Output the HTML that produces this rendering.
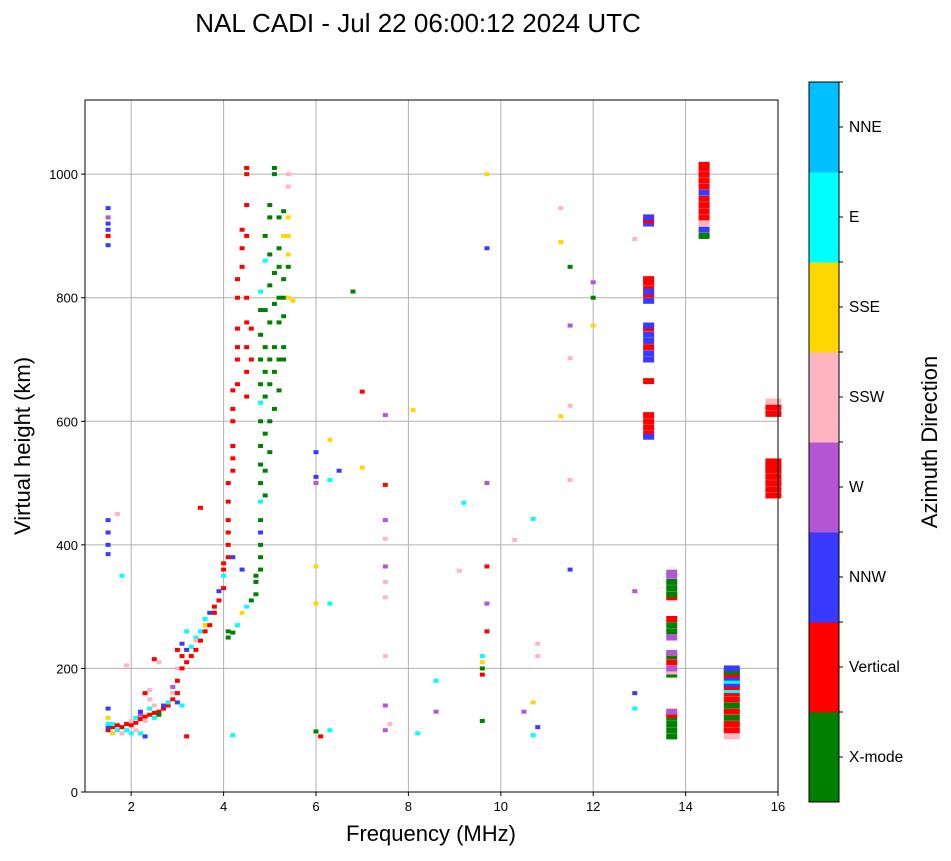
<!DOCTYPE html>
<html><head><meta charset="utf-8"><style>
html,body{margin:0;padding:0;background:#fff;}
svg text{font-family:"Liberation Sans",sans-serif;}
</style></head><body>
<svg id="chart" width="951" height="856" xmlns="http://www.w3.org/2000/svg">
<text x="418" y="32" font-size="26" text-anchor="middle">NAL CADI - Jul 22 06:00:12 2024 UTC</text>
<g id="grid"></g>
<g id="marks"></g>
<rect x="85" y="100" width="693" height="692" fill="none" stroke="#000" stroke-width="1"/>
<g id="axes"></g>
<text x="431" y="841" font-size="22" text-anchor="middle">Frequency (MHz)</text>
<text transform="translate(30,446) rotate(-90)" font-size="22" text-anchor="middle">Virtual height (km)</text>
<g id="cbar"></g>
<text transform="translate(937,442) rotate(-90)" font-size="22" text-anchor="middle">Azimuth Direction</text>
</svg>
<script>
const dirNames=["X-mode","Vertical","NNW","W","SSW","SSE","E","NNE"];
const dirColors=["#008000","#ff0000","#3a3aff","#b455d5","#ffb6c1","#ffd700","#00ffff","#00bfff"];
const xTicks=[2,4,6,8,10,12,14,16];
const yTicks=[0,200,400,600,800,1000];
const freqs=[];const heights=[];const dirs=[];
const raw=`1.5:100 1,105 2,110 6,120 5,135 2,385 2,400 2,420 2,440 2,885 2,900 1,910 2,920 2,930 3,945 2
1.6:95 5,105 1,110 6
1.7:100 6,108 1,450 4
1.8:105 1,95 4,350 6
1.9:110 1,100 6,205 4
2.0:108 1,115 4,95 6
2.1:112 1,120 6,100 4
2.2:118 1,125 3,95 6,130 2
2.3:122 1,115 4,160 1,90 2
2.4:125 1,135 6,165 4,150 4
2.5:128 1,140 4,215 1,120 6
2.6:130 1,210 4,125 0
2.7:135 1,140 2
2.8:140 1,145 6
2.9:150 1,160 4,170 3
3.0:160 1,180 1,200 4,230 1,145 2
3.1:200 1,220 1,240 2,140 6
3.2:210 1,230 2,260 6,90 1
3.3:220 1,235 6
3.4:230 1,250 6,245 4
3.5:245 1,260 6,460 1
3.6:260 1,270 5,280 6
3.7:270 1,290 2
3.8:290 1,300 1
3.9:310 1,325 2
4.0:330 1,350 6,370 1,360 1
4.1:380 1,400 1,420 1,440 1,470 1,500 1,250 0,260 0
4.2:520 1,540 1,560 1,600 1,620 1,650 1,380 2,92 6,258 0
4.3:660 1,700 1,720 1,750 1,800 1,830 1,270 6
4.4:850 1,880 1,910 1,290 5,360 2
4.5:900 1,950 1,1000 1,1010 1,800 1,760 1,720 1,680 1,640 1,300 6
4.6:750 1,700 1,310 0
4.7:320 0,340 0,350 0
4.8:360 0,380 0,400 0,420 2,440 0,470 6,500 0,530 0,560 0,600 0,630 6,660 0,700 0,740 0,780 0,810 6
4.9:480 0,520 0,580 0,640 0,680 0,720 0,780 0,900 0,860 6
5.0:550 0,600 0,660 0,700 0,760 0,820 0,870 0,930 0,950 0
5.1:620 0,680 0,720 0,790 0,840 0,1000 0,1010 0
5.2:650 0,700 0,760 0,800 0,850 0,880 0,930 0
5.3:700 0,720 0,770 0,800 0,830 0,900 5,940 0
5.4:800 5,850 0,870 5,900 5,930 5,980 4,1000 4
5.5:795 5
6.0:305 5,365 5,500 3,510 2,550 2,98 0
6.1:90 1
6.3:100 6,305 6,505 6,570 5
6.5:520 2
6.8:810 0
7.0:525 5,648 1
7.5:100 3,140 3,220 4,315 4,340 4,365 3,410 4,440 3,497 1,610 3
7.6:110 4
8.1:618 5
8.2:95 6
8.6:180 6,130 3
9.1:358 4
9.2:468 6
9.6:115 0,190 1,200 0,210 5,220 6
9.7:260 1,305 3,365 1,500 3,1000 5,880 2
10.3:408 4
10.5:130 3
10.7:92 6,145 5,442 6
10.8:105 2,240 4,220 4
11.3:608 5,890 5,945 4
11.5:360 2,505 4,625 4,702 4,755 3,850 0
12.0:755 5,800 0,825 3
12.9:135 6,160 2,325 3,895 4
13.2:580 1,590 1,600 1,610 1,575 2,665 1,700 2,710 2,730 2,740 2,720 1,750 1,755 2,795 2,805 1,815 1,825 1,830 1,810 2,920 2,925 1,930 2
13.7:90 0,100 0,110 0,120 0,125 1,130 3,190 0,195 4,200 3,210 1,220 0,225 3,250 3,260 0,270 0,280 1,315 1,320 0,330 0,340 0,350 3,355 3
14.4:900 0,910 2,920 4,930 1,940 1,950 1,960 1,970 2,980 1,990 1,1000 1,1010 1,1015 1
15.0:90 4,100 1,110 1,120 0,130 1,140 0,150 1,160 1,165 6,170 1,175 2,180 6,185 2,190 1,195 0,200 2
15.9:480 1,490 1,500 1,510 1,520 1,528 1,535 1,612 1,622 1,632 4`;
raw.split("\n").forEach(l=>{const [f,r]=l.split(":");r.split(",").forEach(p=>{const [h,d]=p.trim().split(" ");freqs.push(+f);heights.push(+h);dirs.push(+d);});});
const NS="http://www.w3.org/2000/svg";
const X0=85,X1=778,Y0=792,Y1=100;
const xs=f=>X0+(f-1)/15*(X1-X0);
const ys=h=>Y0-h/1120*(Y0-Y1);
function mk(t,a,p){const e=document.createElementNS(NS,t);for(const k in a)e.setAttribute(k,a[k]);p.appendChild(e);return e;}
const grid=document.getElementById('grid'),axes=document.getElementById('axes'),marks=document.getElementById('marks'),cbar=document.getElementById('cbar');
xTicks.forEach(v=>{const x=xs(v);
 if(v<16){const g=mk('line',{x1:x,x2:x,y1:Y1,y2:Y0,stroke:'#b0b0b0','stroke-width':1},grid);}
 mk('line',{x1:x,x2:x,y1:Y0,y2:Y0+4,stroke:'#000'},axes);
 const t=mk('text',{x:x,y:Y0+19,'font-size':13,'text-anchor':'middle'},axes);t.textContent=v;
 
 });
yTicks.forEach(v=>{const y=ys(v);
 if(v>0){const g=mk('line',{x1:X0,x2:X1,y1:y,y2:y,stroke:'#b0b0b0','stroke-width':1},grid);}
 mk('line',{x1:X0-4,x2:X0,y1:y,y2:y,stroke:'#000'},axes);
 const t=mk('text',{x:X0-7,y:y+5,'font-size':13,'text-anchor':'end'},axes);t.textContent=v;
 
 });
for(let i=0;i<freqs.length;i++){
 const big=freqs[i]>13;const w=big?(freqs[i]>14.8?16:11):5;const h=big?6:4;
 const r=mk('rect',{x:xs(freqs[i])-w/2,y:ys(heights[i])-h/2,width:w,height:h,fill:dirColors[dirs[i]]},marks);
 
 }
const CB0=82,CBH=720,cw=CBH/8;
dirNames.forEach((n,i)=>{const y=CB0+CBH-(i+1)*cw;
 const r=mk('rect',{x:809,y:y,width:30,height:cw+0.5,fill:dirColors[i]},cbar);
 
 
 mk('line',{x1:839,x2:843,y1:y+cw/2,y2:y+cw/2,stroke:'#000'},cbar);
 mk('line',{x1:839,x2:843,y1:y,y2:y,stroke:'#000'},cbar);
 const t=mk('text',{x:849,y:y+cw/2+5,'font-size':15.5},cbar);t.textContent=n;
 
 });
mk('rect',{x:809,y:CB0,width:30,height:CBH,fill:'none',stroke:'#000'},cbar);
</script>
</body></html>
